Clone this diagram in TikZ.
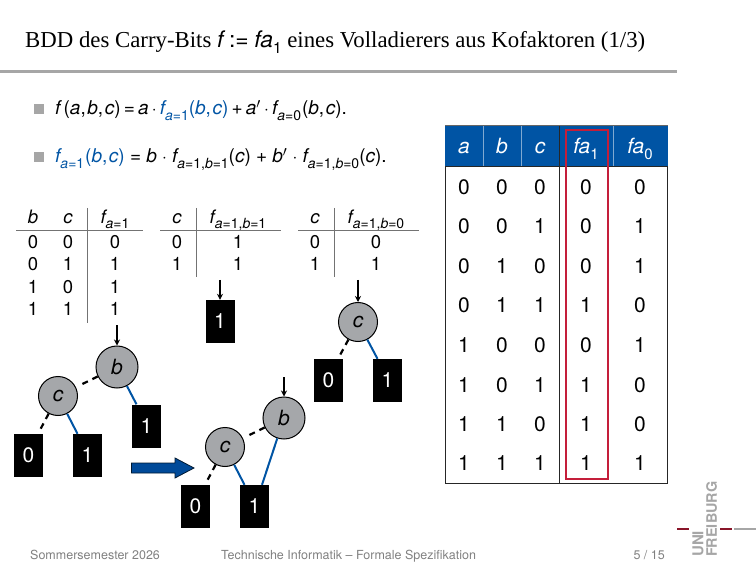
\documentclass[tikz,border=0pt]{standalone}
\usepackage{fontspec}
\setmainfont{Liberation Serif}
\newfontfamily\hv{TeX Gyre Heros}
\usepackage{xcolor}
\usetikzlibrary{arrows.meta}
\definecolor{ufblue}{HTML}{0054A4}
\definecolor{ufdark}{HTML}{004A99}
\definecolor{ufred}{HTML}{C41E3A}
\definecolor{ufbar}{HTML}{A6A6A6}
\definecolor{nodegray}{HTML}{A5A7AA}
\definecolor{footgray}{HTML}{808080}
\newcommand{\vr}[1]{{\hv\itshape #1}}
\newcommand{\sbs}[1]{\raisebox{-0.3em}{\fontsize{14}{14}\selectfont #1}}
\newcommand{\sbt}[1]{\raisebox{-0.3em}{\fontsize{15}{15}\selectfont #1}}
\newcommand{\ai}{{\itshape a}}
\newcommand{\bi}{{\itshape b}}
\newcommand{\cm}{,\kern1.6pt}
\newcommand{\gp}{\kern5.2pt}
\tikzset{
  formula/.style={anchor=base west, inner sep=0pt, font=\hv\fontsize{19}{20}\selectfont},
  bullet/.style={rectangle, fill=ufbar, minimum size=10pt, inner sep=0pt},
  cell/.style={inner sep=0pt, text height=13.3pt, text depth=0pt, font=\hv\fontsize{18.5}{20}\selectfont},
  bigcell/.style={inner sep=0pt, text height=15pt, text depth=0pt, font=\hv\fontsize{21}{22}\selectfont},
  headcell/.style={inner sep=0pt, text height=15pt, text depth=0pt, text=white, font=\hv\itshape\fontsize{21}{22}\selectfont},
  vnode/.style={circle, draw=black, fill=nodegray, line width=1pt, inner sep=0pt,
                font=\hv\itshape\fontsize{21}{22}\selectfont},
  leaf/.style={rectangle, fill=black, text=white, minimum width=29pt, minimum height=43pt,
               inner sep=0pt, font=\hv\fontsize{21}{22}\selectfont},
  rule/.style={draw=black!55, line width=1pt},
  entry/.style={-{Stealth[length=6pt,width=6pt]}, draw=black, line width=1.2pt},
  low/.style={draw=black, dash pattern=on 6pt off 5pt, line width=2.2pt, shorten >=3pt},
  high/.style={draw=ufblue, line width=2pt},
  foot/.style={anchor=base west, inner sep=0pt, text=footgray, font=\hv\fontsize{12.5}{14}\selectfont},
  logo/.style={anchor=west, rotate=90, inner sep=0pt, text=ufbar},
}
\begin{document}
\begin{tikzpicture}[x=1pt,y=-1pt]
  \useasboundingbox (0,0) rectangle (756,567);

  % head
  \node[anchor=base west, inner sep=0pt, font=\fontsize{22.8}{26}\selectfont] (title) at (25,47.5)
    {BDD des Carry-Bits \vr{f} {\hv:=} \vr{fa}\raisebox{-0.25em}{\fontsize{15.5}{16}\selectfont\hv 1} eines Volladierers aus Kofaktoren (1/3)};
  \draw[draw=ufbar, line width=3pt] (0,72) -- (677,72);

  \node[bullet] (b1) at (38.5,109.5) {};
  \node[bullet] (b2) at (38.5,157.5) {};
  \node[formula] (eq1) at (55,115)
    {\vr{f}\,(\vr{a}\cm\vr{b}\cm\vr{c})\,=\,\vr{a}\,$\cdot$\,\textcolor{ufblue}{\vr{f}\sbs{\ai=1}(\vr{b}\cm\vr{c})}\,+\,\vr{a}$'$\,$\cdot$\,\vr{f}\sbs{\ai=0}\kern1pt(\vr{b}\cm\vr{c}).};
  \node[formula] (eq2) at (55,163)
    {\textcolor{ufblue}{\vr{f}\sbs{\ai=1}\kern1pt(\vr{b}\cm\vr{c})}\gp=\gp\vr{b}\gp$\cdot$\gp\vr{f}\sbs{\ai=1,\bi=1}(\vr{c})\gp+\gp\vr{b}$'$\gp$\cdot$\gp\vr{f}\sbs{\ai=1,\bi=0}(\vr{c}).};

  % cofactor tables
  \node[cell] (tb) at (33,216.5) {\vr{b}};
  \node[cell] (tc) at (68,216.5) {\vr{c}};
  \node[cell] (tf) at (115,216.5) {\vr{f}\sbs{\ai=1}};
  \foreach \y/\p/\q/\r/\n in {241.5/0/0/0/1, 264/0/1/1/2, 286.5/1/0/1/3, 309/1/1/1/4} {
    \node[cell] (tb\n) at (33,\y) {\p};
    \node[cell] (tc\n) at (68,\y) {\q};
    \node[cell] (tf\n) at (115,\y) {\r};
  }
  \draw[rule] (16,231) -- (143,231);
  \draw[rule] (87,208) -- (87,323);

  \node[cell] (uc) at (177,216.5) {\vr{c}};
  \node[cell] (uf) at (238,216.5) {\vr{f}\sbs{\ai=1,\bi=1}};
  \node[cell] (uc1) at (177,241.5) {0};
  \node[cell] (uf1) at (238,241.5) {1};
  \node[cell] (uc2) at (177,264) {1};
  \node[cell] (uf2) at (238,264) {1};
  \draw[rule] (160,231) -- (281,231);
  \draw[rule] (196,208) -- (196,277);

  \node[cell] (wc) at (315,216.5) {\vr{c}};
  \node[cell] (wf) at (376,216.5) {\vr{f}\sbs{\ai=1,\bi=0}};
  \node[cell] (wc1) at (315,241.5) {0};
  \node[cell] (wf1) at (376,241.5) {0};
  \node[cell] (wc2) at (315,264) {1};
  \node[cell] (wf2) at (376,264) {1};
  \draw[rule] (298,231) -- (419,231);
  \draw[rule] (334,208) -- (334,277);

  % first tree
  \coordinate (inA) at (117,325);
  \node[vnode, minimum size=42pt] (bA) at (117,367) {b};
  \node[vnode, minimum size=39pt] (cA) at (58,396) {c};
  \node[leaf] (nullA) at (28.5,455.5) {0};
  \node[leaf] (einsA) at (87.5,455.5) {1};
  \node[leaf] (einsB) at (146.5,426) {1};
  \draw[entry] (inA) -- (bA);
  \draw[low] (bA) -- (cA);
  \draw[high] (bA) -- ([xshift=-10pt]einsB.north);
  \draw[low] (cA) -- ([xshift=9.5pt]nullA.north);
  \draw[high] (cA) -- ([xshift=-10pt]einsA.north);

  % second tree
  \coordinate (inC) at (220,280);
  \node[leaf] (einsC) at (220,321.5) {1};
  \draw[entry] (inC) -- (einsC);

  % third tree
  \coordinate (inD) at (358,280);
  \node[vnode, minimum size=39pt] (cD) at (358,322) {c};
  \node[leaf] (nullD) at (328.5,380.5) {0};
  \node[leaf] (einsD) at (387.5,380.5) {1};
  \draw[entry] (inD) -- (cD);
  \draw[low] (cD) -- ([xshift=9.5pt]nullD.north);
  \draw[high] (cD) -- ([xshift=-10pt]einsD.north);

  % reduced tree
  \draw[draw=black!70!ufblue, fill=ufdark, line width=0.8pt]
    (131.5,463) -- (175,463) -- (175,458) -- (194,468) -- (175,478) -- (175,473) -- (131.5,473) -- cycle;
  \coordinate (inE) at (284,377);
  \node[vnode, minimum size=42pt] (bE) at (284,418) {b};
  \node[vnode, minimum size=39pt] (cE) at (225,447) {c};
  \node[leaf] (nullE) at (195.5,506.5) {0};
  \node[leaf] (einsE) at (254.5,506.5) {1};
  \draw[entry] (inE) -- (bE);
  \draw[low] (bE) -- (cE);
  \draw[high] (bE) -- ([xshift=7.5pt]einsE.north);
  \draw[low] (cE) -- ([xshift=9.5pt]nullE.north);
  \draw[high] (cE) -- ([xshift=-10pt]einsE.north);

  % truth table
  \fill[ufblue] (445,126) rectangle (667.5,166);
  \draw[draw=white!50!ufblue, line width=0.6pt] (483.7,126) -- (483.7,166);
  \draw[draw=white!50!ufblue, line width=0.6pt] (521.7,126) -- (521.7,166);
  \draw[draw=white!50!ufblue, line width=0.6pt] (613,126) -- (613,166);
  \draw[draw=black!60, line width=1pt] (445,126) -- (667.5,126);
  \draw[draw=black!85, line width=0.8pt] (445,166) -- (445,483) -- (667.5,483) -- (667.5,166) -- cycle;
  \draw[draw=black!85, line width=0.8pt] (559.3,126) -- (559.3,483);
  \node[headcell] (ha) at (464,146) {a};
  \node[headcell] (hb) at (502,146) {b};
  \node[headcell] (hc) at (540,146) {c};
  \node[headcell] (hx) at (586,146) {fa\sbt{\upshape 1}};
  \node[headcell] (hy) at (640,146) {fa\sbt{\upshape 0}};
  \foreach \y/\p/\q/\r/\s/\t/\n in {187/0/0/0/0/0/1, 226.5/0/0/1/0/1/2, 266/0/1/0/0/1/3, 305/0/1/1/1/0/4,
      345/1/0/0/0/1/5, 384.5/1/0/1/1/0/6, 424/1/1/0/1/0/7, 463/1/1/1/1/1/8} {
    \node[bigcell] (ra\n) at (464,\y) {\p};
    \node[bigcell] (rb\n) at (502,\y) {\q};
    \node[bigcell] (rc\n) at (540,\y) {\r};
    \node[bigcell] (rx\n) at (586,\y) {\s};
    \node[bigcell] (ry\n) at (640,\y) {\t};
  }
  \draw[draw=ufred, line width=2pt] (566,130.5) rectangle (608,479);

  % foot
  \node[foot] (term) at (30,559) {Sommersemester 2026};
  \node[foot] (course) at (221,559) {Technische Informatik – Formale Spezifikation};
  \node[foot, anchor=base east] (page) at (665,559) {5 / 15};

  % logo
  \node[logo, font=\hv\bfseries\fontsize{15}{16}\selectfont] (uni) at (698,557) {UNI};
  \node[logo, font=\hv\bfseries\fontsize{14.4}{16}\selectfont] (frei) at (711.5,557) {FREIBURG};
  \draw[draw=ufred!70!black, line width=2.5pt] (677,529) -- (689,529);
  \draw[draw=ufred!70!black, line width=2.5pt] (720,529) -- (732,529);
  \draw[draw=ufbar, line width=2.5pt] (734,529) -- (756,529);
\end{tikzpicture}
\end{document}
